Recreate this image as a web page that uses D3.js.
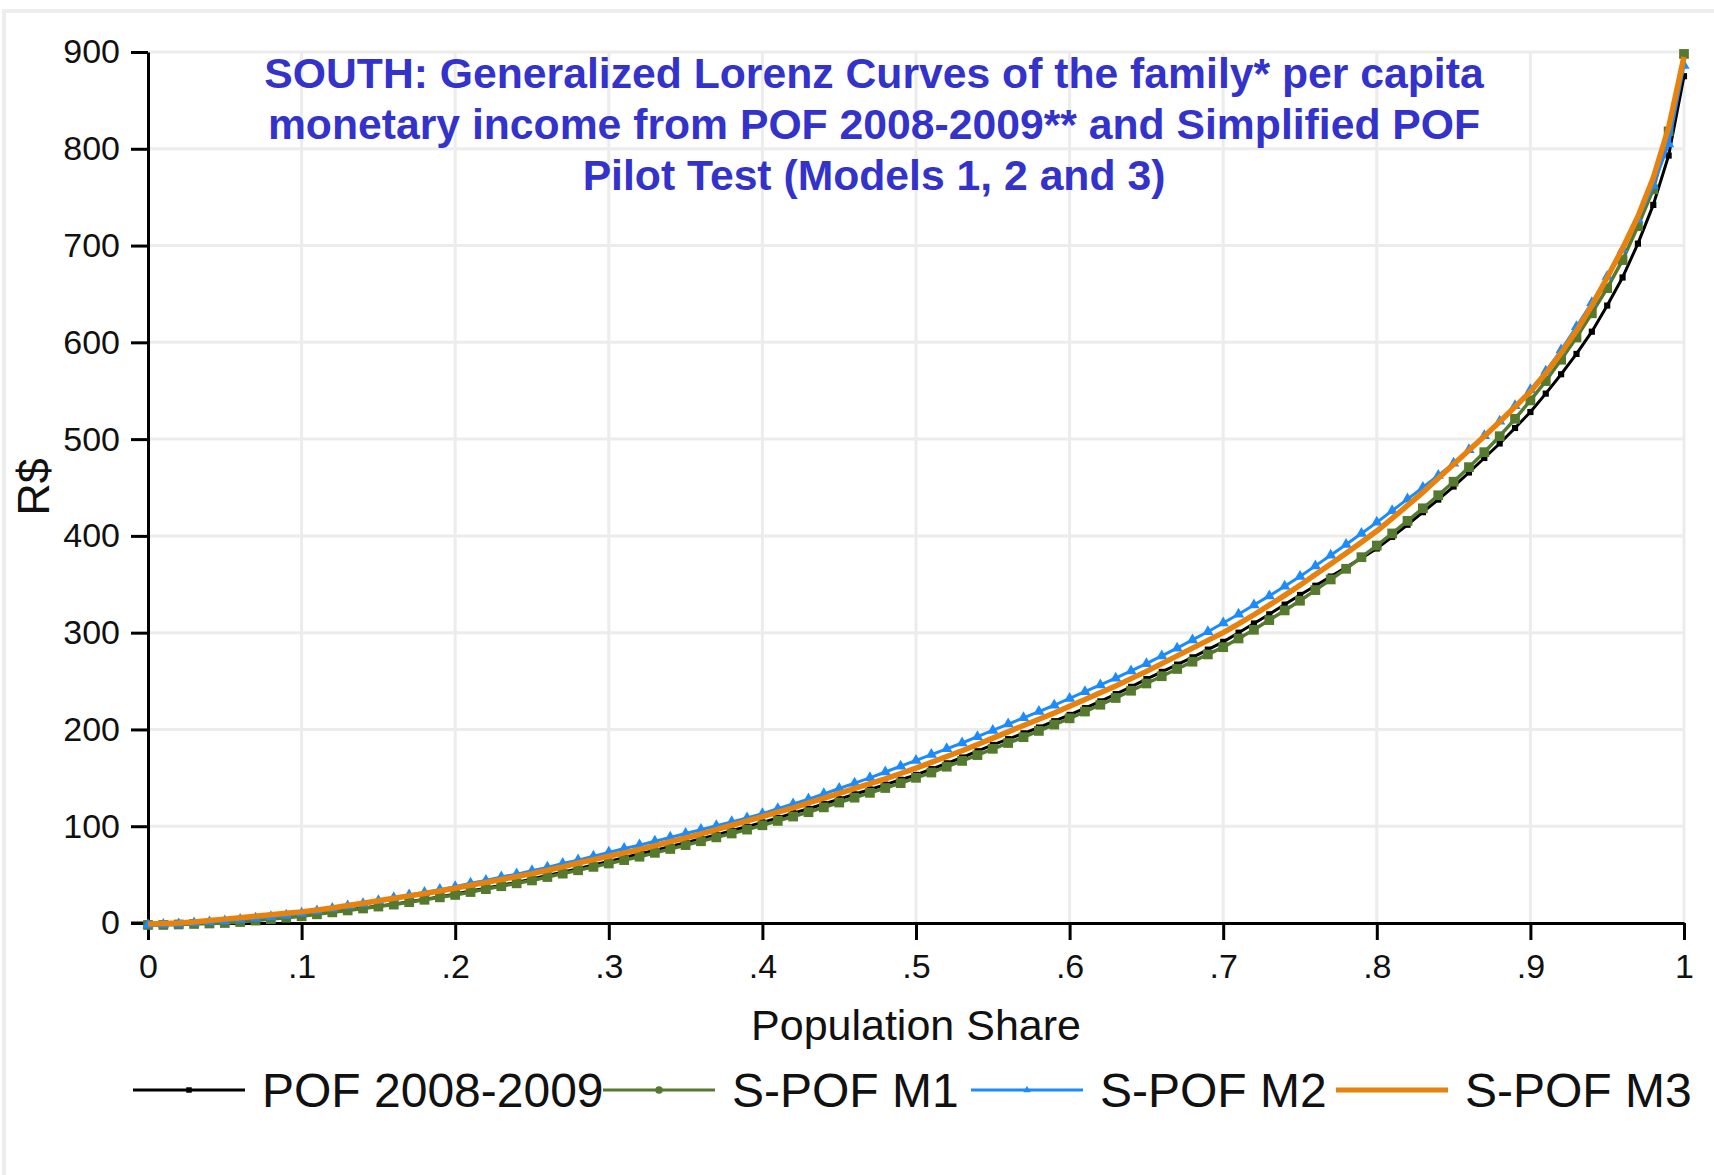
<!DOCTYPE html>
<html>
<head>
<meta charset="utf-8">
<script src="https://cdn.jsdelivr.net/npm/d3@7"></script>
<style>
  html, body { margin: 0; padding: 0; background: #fff; }
  svg { display: block; font-family: "Liberation Sans", Arial, sans-serif; }
</style>
</head>
<body>
<svg id="chart" width="1714" height="1175"></svg>
<script>
// population share grid (percentiles)
const shares = [0,.01,.02,.03,.04,.05,.06,.07,.08,.09,.1,.11,.12,.13,.14,.15,.16,.17,.18,.19,.2,
  .21,.22,.23,.24,.25,.26,.27,.28,.29,.3,.31,.32,.33,.34,.35,.36,.37,.38,.39,.4,
  .41,.42,.43,.44,.45,.46,.47,.48,.49,.5,.51,.52,.53,.54,.55,.56,.57,.58,.59,.6,
  .61,.62,.63,.64,.65,.66,.67,.68,.69,.7,.71,.72,.73,.74,.75,.76,.77,.78,.79,.8,
  .81,.82,.83,.84,.85,.86,.87,.88,.89,.9,.91,.92,.93,.94,.95,.96,.97,.98,.99,1];

// generalized Lorenz ordinates, R$
const pof = [-2,-1.5,-1,-0.5,0,0.5,1.5,3,4.5,6,7.5,9.5,11.5,13.5,15.5,17.5,19.5,22,24.5,27,30,
  33,36,39,42,45.5,49,52.5,56,60,63.5,67.5,71.5,75,79,83,87,91,95.5,99.5,104,
  108.5,113.5,118,123,128,133,138,143,148,153,159,165,171,177.5,184,190,196,202,208.5,215,
  222,229,236.5,244,252,259.5,267,274.5,282.5,290.5,300,309.5,319,329,339,348.5,358,367.5,377,387,
  399,411.5,424.5,437.5,451,465.5,480.5,495.5,511.5,528,547,567,588,611,638,667,702,742,793,875];

const m1 = [-2,-2,-1.5,-1,-0.5,0,1,2.5,4,5.5,7,9,11,13,15,17,19,21.5,24,26.5,29,
  32,35,38,41,44,47.5,51,54.5,58,61.5,65,68.5,72.5,76.5,80.5,84.5,88.5,92.5,96.5,101,
  105.5,110,114.5,119.5,124.5,129.5,134.5,139.5,144.5,150,155.5,161.5,167.5,173.5,180,186,192,198.5,205,211.5,
  218.5,225.5,232.5,240,247.5,255,262.5,270,277.5,285,294,303,313,323,333,344,355,366,378,390,
  402.5,415.5,428.5,442,456,471,486.5,503,521,540,560,582,605,630,656,685,720,758,818,898];

const m2 = [-2,-1.5,-1,0,1,2,3.5,5,6.5,8,10,12.5,15,17.5,20,23,26,29,31.5,34.5,37.5,
  41,44,47.5,50.5,54,57.5,61.5,65,69,73,77,80.5,84.5,88.5,92.5,96.5,100.5,104.5,108.5,113,
  118,123,128,133.5,139,144.5,150,156,162,168,174,180,186,192.5,199,205.5,212,218.5,225,232,
  239,246,253,260.5,268,276,284,292.5,301,310,319,328.5,338,348,358,369,380,391,402.5,414,
  426,438,450,462.5,475,489,503.5,518.5,534.5,551,570,592,616,641,668,696,727,762,805,886];

const m3 = [-1,-0.5,0,1,2.5,4,5.5,7,8.5,10,11.5,13.5,15.5,18,20.5,23,25.5,28,30.5,33,36,
  39,42,45,48,51,54.5,58,62,65.5,69,72.5,76,80,84,88,92,96.5,101,105.5,110,
  114.5,119,124,129,134,139,144,149,154.5,160,166,172,178,184.5,191,197.5,204,210.5,217,224,
  231,238,245,252.5,260,268,276,284,292,300,309,318.5,328.5,338.5,349,360,371,382,393.5,405,
  418,431.5,445,459.5,474,488.5,503,518,533.5,549,568,589,612,638,667,697,730,770,822,895];

const seriesNames = ["POF 2008-2009", "S-POF M1", "S-POF M2", "S-POF M3"];
const xTicks = [0, .1, .2, .3, .4, .5, .6, .7, .8, .9, 1];
const xTickLabels = ["0", ".1", ".2", ".3", ".4", ".5", ".6", ".7", ".8", ".9", "1"];
const yTicks = [0, 100, 200, 300, 400, 500, 600, 700, 800, 900];
const titleLines = [
  "SOUTH: Generalized Lorenz Curves of the family* per capita",
  "monetary income from POF 2008-2009** and Simplified POF",
  "Pilot Test (Models 1, 2 and 3)"
];

// styling per series: colour, line width, marker
const styles = [
  { color: "#000000", width: 3,   symbol: d3.symbolSquare,   size: 38, legendSize: 30 },
  { color: "#557a2f", width: 3.5, symbol: d3.symbolSquare,   size: 95, legendSize: 45 },
  { color: "#1a8cff", width: 3,   symbol: d3.symbolTriangle, size: 55, legendSize: 24 },
  { color: "#e8820c", width: 5.5, symbol: null,              size: 0,  legendSize: 0 }
];
const series = [pof, m1, m2, m3];

const svg = d3.select("#chart");
const plot = { left: 148, right: 1684, top: 52, bottom: 923 };

const x = d3.scaleLinear().domain([0, 1]).range([plot.left, plot.right]);
const y = d3.scaleLinear().domain([0, 900]).range([plot.bottom, plot.top]);

// outer frame (light grey, clipped by the picture edge)
svg.append("path")
  .attr("d", "M4,1175V11H1714")
  .attr("fill", "none")
  .attr("stroke", "#ededed")
  .attr("stroke-width", 4);

// grid
const grid = svg.append("g").attr("stroke", "#ececec").attr("stroke-width", 3);
grid.selectAll("line.v").data(xTicks.filter(d => d > 0)).join("line")
  .attr("class", "v")
  .attr("x1", d => x(d)).attr("x2", d => x(d))
  .attr("y1", y(0)).attr("y2", y(900));
grid.selectAll("line.h").data(yTicks.filter(d => d > 0)).join("line")
  .attr("class", "h")
  .attr("x1", x(0)).attr("x2", x(1))
  .attr("y1", d => y(d)).attr("y2", d => y(d));

// axes
function styleAxis(g){
  g.select(".domain").attr("stroke", "#000").attr("stroke-width", 3);
  g.selectAll(".tick line").attr("stroke", "#000").attr("stroke-width", 3);
  g.selectAll(".tick text").attr("fill", "#111").style("font-size", "34px")
    .style("font-family", '"Liberation Sans", Arial, sans-serif');
}

svg.append("g")
  .attr("transform", "translate(" + plot.left + ",0)")
  .call(d3.axisLeft(y).tickValues(yTicks).tickSize(17).tickSizeOuter(0).tickPadding(11))
  .call(styleAxis);

svg.append("g")
  .attr("transform", "translate(0," + plot.bottom + ")")
  .call(d3.axisBottom(x).tickValues(xTicks).tickFormat((d, i) => xTickLabels[i])
    .tickSize(17).tickSizeOuter(0).tickPadding(14))
  .call(styleAxis);

// extend x axis line left under the y zero tick
svg.append("line")
  .attr("x1", plot.left - 17).attr("x2", plot.left)
  .attr("y1", plot.bottom).attr("y2", plot.bottom)
  .attr("stroke", "#000").attr("stroke-width", 3);

// curves
const line = d3.line().x(d => x(d[0])).y(d => y(d[1]));
series.forEach((vals, i) => {
  const st = styles[i];
  const pts = shares.map((s, k) => [s, vals[k]]);
  svg.append("path")
    .datum(pts)
    .attr("fill", "none")
    .attr("stroke", st.color)
    .attr("stroke-width", st.width)
    .attr("stroke-linejoin", "round")
    .attr("d", line);
  if (st.symbol) {
    svg.append("g").selectAll("path").data(pts).join("path")
      .attr("transform", d => "translate(" + x(d[0]) + "," + y(d[1]) + ")")
      .attr("d", d3.symbol().type(st.symbol).size(st.size))
      .attr("fill", st.color);
  }
});

// title
svg.append("text")
  .attr("x", 874).attr("y", 88)
  .attr("text-anchor", "middle")
  .attr("fill", "#3333cc")
  .style("font-size", "42.7px")
  .style("font-weight", "bold")
  .selectAll("tspan").data(titleLines).join("tspan")
  .attr("x", 874)
  .attr("dy", (d, i) => i === 0 ? 0 : 51)
  .text(d => d);

// axis titles
svg.append("text")
  .attr("x", x(0.5)).attr("y", 1040)
  .attr("text-anchor", "middle")
  .attr("fill", "#111")
  .style("font-size", "43px")
  .text("Population Share");

svg.append("text")
  .attr("transform", "translate(49,487) rotate(-90)")
  .attr("text-anchor", "middle")
  .attr("fill", "#111")
  .style("font-size", "45px")
  .text("R$");

// legend
const legendX = [133, 603, 971, 1336];
const legendY = 1090;
const lg = svg.append("g");
seriesNames.forEach((name, i) => {
  const st = styles[i];
  const x0 = legendX[i];
  lg.append("line")
    .attr("x1", x0).attr("x2", x0 + 112)
    .attr("y1", legendY).attr("y2", legendY)
    .attr("stroke", st.color)
    .attr("stroke-width", i === 3 ? 5 : 3);
  if (st.symbol) {
    lg.append("path")
      .attr("transform", "translate(" + (x0 + 56) + "," + legendY + ")")
      .attr("d", d3.symbol().type(i === 1 ? d3.symbolCircle : st.symbol).size(st.legendSize))
      .attr("fill", st.color);
  }
  lg.append("text")
    .attr("x", x0 + 129).attr("y", legendY + 17)
    .attr("fill", "#111")
    .style("font-size", "48px")
    .text(name);
});
</script>
</body>
</html>
